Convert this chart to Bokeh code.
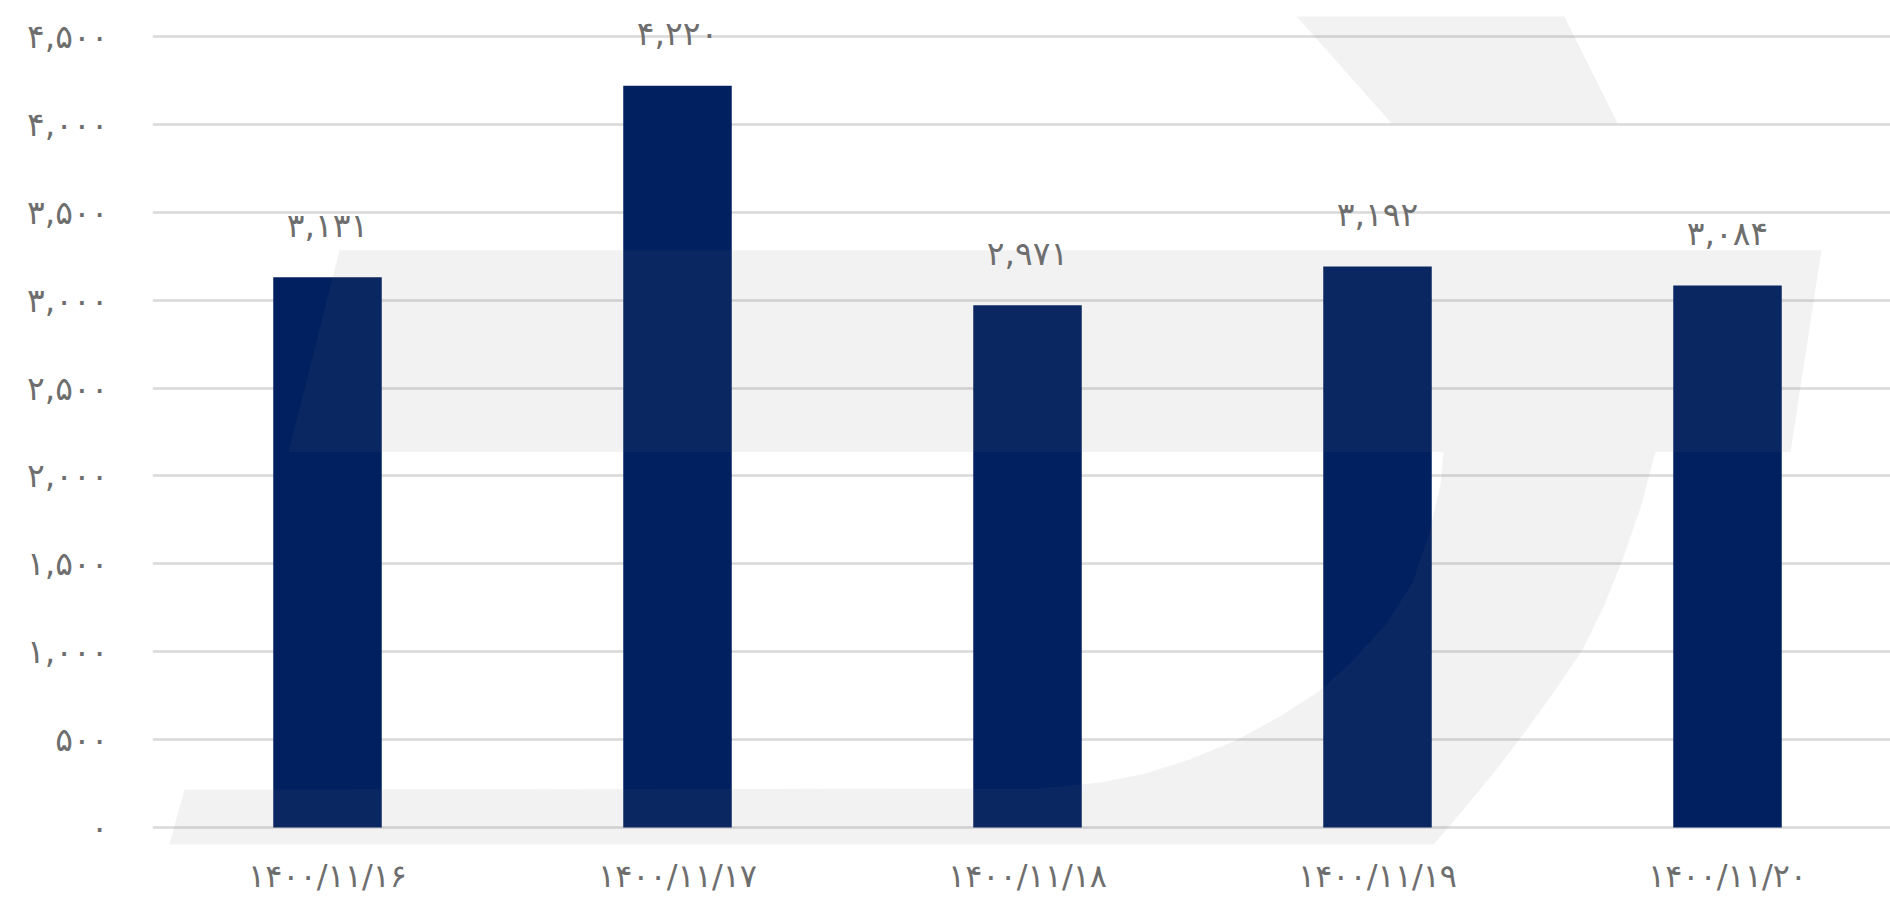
from bokeh.plotting import figure
from bokeh.models import Range1d, FixedTicker, ColumnDataSource
from bokeh.core.properties import value
from bokeh.embed import file_html
from bokeh.resources import INLINE

# ---- data ----
dates = ["۱۴۰۰/۱۱/۱۶", "۱۴۰۰/۱۱/۱۷", "۱۴۰۰/۱۱/۱۸", "۱۴۰۰/۱۱/۱۹", "۱۴۰۰/۱۱/۲۰"]
values = [3131, 4220, 2971, 3192, 3084]
y_ticks = [0, 500, 1000, 1500, 2000, 2500, 3000, 3500, 4000, 4500]

FA = str.maketrans("0123456789", "۰۱۲۳۴۵۶۷۸۹")
def fa(n):
    return "{:,}".format(n).translate(FA)

FONT = value("DejaVu Sans")
TXT = "#6e6e6e"
FS = "33px"
FS_X = "32px"

x_pos = [i + 0.5 for i in range(len(dates))]

# layout constants (pixels)
W, H = 1890, 897
LEFT, TOP, BOTTOM = 152, 16, 52
PX_PER_CAT = 350.0
PX_PER_UNIT = 792.0 / 4500.0
ZERO_PX = 828.0
X_END = (W - LEFT) / PX_PER_CAT
Y_END = (ZERO_PX - TOP) / PX_PER_UNIT
Y_START = -((H - BOTTOM) - ZERO_PX) / PX_PER_UNIT

p = figure(width=W, height=H, output_backend="svg", toolbar_location=None,
           x_range=Range1d(0, X_END), y_range=Range1d(Y_START, Y_END),
           min_border_left=LEFT, min_border_right=0, min_border_top=TOP,
           min_border_bottom=BOTTOM)
p.outline_line_color = None
p.background_fill_color = "white"
p.border_fill_color = "white"

# grid
p.xgrid.visible = False
p.ygrid.ticker = FixedTicker(ticks=y_ticks)
p.ygrid.grid_line_color = "#d9d9d9"
p.ygrid.grid_line_width = 2.5

# y axis
p.yaxis.ticker = FixedTicker(ticks=y_ticks)
p.yaxis.major_label_overrides = {t: fa(t) for t in y_ticks}
p.yaxis.axis_line_color = None
p.yaxis.major_tick_line_color = None
p.yaxis.minor_tick_line_color = None
p.yaxis.major_tick_out = 0
p.yaxis.major_tick_in = 0
p.yaxis.major_label_standoff = 44
p.yaxis.major_label_text_font = "DejaVu Sans"
p.yaxis.major_label_text_font_size = FS
p.yaxis.major_label_text_color = TXT

# x axis
p.xaxis.ticker = FixedTicker(ticks=x_pos)
p.xaxis.major_label_overrides = {x: d for x, d in zip(x_pos, dates)}
p.xaxis.axis_line_color = None
p.xaxis.major_tick_line_color = None
p.xaxis.minor_tick_line_color = None
p.xaxis.major_tick_out = 0
p.xaxis.major_tick_in = 0
p.xaxis.major_label_standoff = 12
p.xaxis.major_label_text_font = "DejaVu Sans"
p.xaxis.major_label_text_font_size = FS_X
p.xaxis.major_label_text_color = TXT

src = ColumnDataSource(dict(x=x_pos, top=values, label=[fa(v) for v in values]))
p.vbar(x="x", top="top", bottom=0, width=0.31, source=src,
       fill_color="#002060", line_color=None)

# faint watermark logo (decoration only), outlined in canvas pixels
def to_data(pts):
    xs = [(sx - LEFT) / PX_PER_CAT for sx, sy in pts]
    ys = [(ZERO_PX - sy) / PX_PER_UNIT for sx, sy in pts]
    return xs, ys

band = [(339, 250), (1821, 250), (1790, 452), (288, 452)]
upper_arc = [(1265, -20), (1282, 0), (1391, 123), (1617, 123), (1556, 0), (1547, -20)]
lower = [(1443, 452), (1440, 485), (1428, 535), (1412, 583), (1385, 625), (1350, 663),
         (1318, 692), (1279, 717), (1235, 741), (1189, 760), (1145, 774), (1100, 783),
         (1040, 789), (184, 790), (151, 910), (1375, 910), (1386, 897), (1422, 858),
         (1457, 817), (1492, 775), (1524, 733), (1555, 690), (1582, 650), (1604, 605),
         (1622, 560), (1640, 508), (1655, 452)]
wx, wy = [], []
for shape in (band, upper_arc, lower):
    a, b = to_data(shape)
    wx.append(a)
    wy.append(b)
p.patches(wx, wy, fill_color="#6f6f6f", fill_alpha=0.09, line_color=None)

p.text(x="x", y="top", text="label", source=src, text_font=FONT,
       text_font_size=FS, text_color=TXT, text_align="center",
       text_baseline="alphabetic", y_offset=-52)

open("out.html", "w").write(file_html(p, INLINE))
